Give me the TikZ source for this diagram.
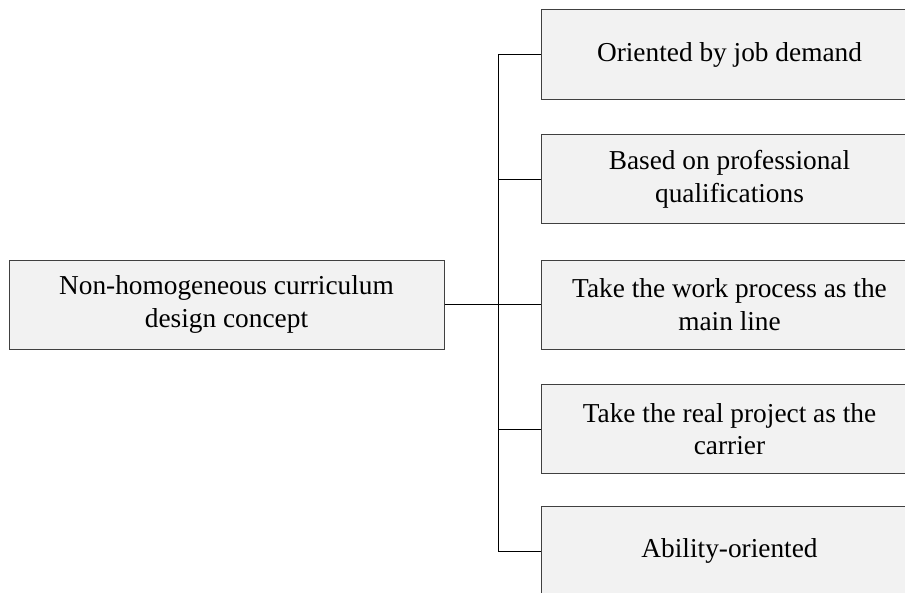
\documentclass[tikz,border=0pt]{standalone}
\usepackage{fontspec}
\setmainfont{Liberation Serif}
\usetikzlibrary{positioning}
\tikzset{
  line cap=rect,
  every picture/.style={line width=0.75pt},
  box/.style={draw=black!75, fill=gray!10, minimum height=66.75pt, align=center,
    inner sep=0pt, font=\fontsize{20.5}{24.5}\selectfont},
  leftbox/.style={box, minimum width=326.25pt},
  rightbox/.style={box, minimum width=282pt, anchor=west},
  link/.style={draw=black, line width=0.75pt}
}

\begin{document}
\begin{tikzpicture}[x=0.75pt, y=-0.75pt]
\useasboundingbox (0,0) rectangle (905,592);
\clip (0,0) rectangle (905,592);

% 左侧主框
\node[leftbox] (concept) at (226.5,304.5) {Non-homogeneous curriculum\\design concept};

% 右侧各项
\node[rightbox] (demand) at (541,54.5) {Oriented by job demand};
\node[rightbox] (qualif) at (541,179) {Based on professional\\qualifications};
\node[rightbox] (process) at (541,304.5) {Take the work process as the\\main line};
\node[rightbox] (project) at (541,429) {Take the real project as the\\carrier};
\node[rightbox] (ability) at (541,551) {Ability-oriented};

% 连接线
\coordinate (trunk) at (498,304.5);
\draw[link] (concept.east) -- (process.west);
\draw[link] (demand.west -| trunk) -- (ability.west -| trunk);
\foreach \n in {demand,qualif,project,ability}
  \draw[link] (\n.west -| trunk) -- (\n.west);

\end{tikzpicture}
\end{document}
